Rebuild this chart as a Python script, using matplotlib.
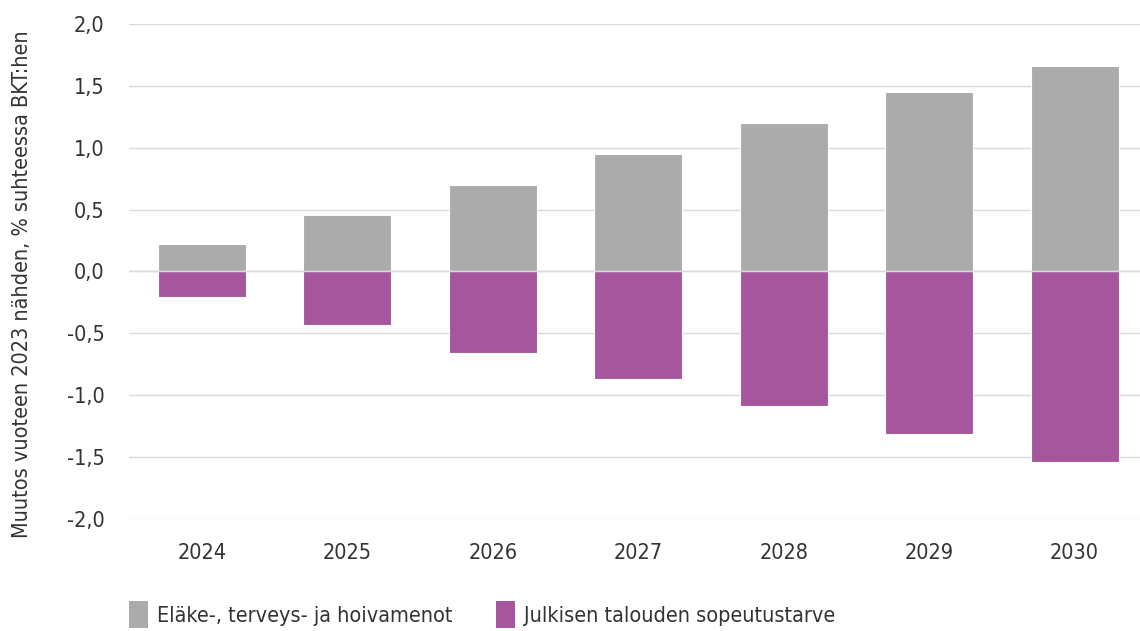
import matplotlib
matplotlib.use("Agg")
import matplotlib.pyplot as plt
import numpy as np
from matplotlib.ticker import FuncFormatter
from matplotlib.patches import Patch

plt.rcParams['font.family'] = ['DejaVu Sans']
plt.rcParams['font.stretch'] = 'condensed'

years = ['2024', '2025', '2026', '2027', '2028', '2029', '2030']
menot = [0.22, 0.46, 0.70, 0.95, 1.20, 1.45, 1.66]
sopeutus = [-0.21, -0.43, -0.66, -0.87, -1.09, -1.31, -1.54]
series_names = ['Eläke-, terveys- ja hoivamenot', 'Julkisen talouden sopeutustarve']
ylabel = 'Muutos vuoteen 2023 nähden, % suhteessa BKT:hen'

gray = '#ababab'
purple = '#a6569c'
text_color = '#333333'

fig = plt.figure(figsize=(11.4, 6.31), dpi=100)
ax = fig.add_axes([0.1134, 0.1775, 0.893, 0.7845])

x = np.arange(len(years))
ax.bar(x, menot, width=0.605, color=gray, edgecolor='white', linewidth=0.8, zorder=3)
ax.bar(x, sopeutus, width=0.605, color=purple, edgecolor='white', linewidth=0.8, zorder=3)

ax.set_ylim(-2.0, 2.0)
ax.set_xlim(-0.5, len(years) - 0.5)
ax.set_yticks(np.arange(-2.0, 2.01, 0.5))
ax.yaxis.set_major_formatter(FuncFormatter(lambda v, p: f"{v:.1f}".replace('.', ',')))
ax.set_xticks(x)
ax.set_xticklabels(years)
ax.grid(axis='y', color='#d9d9d9', linewidth=1.0, zorder=0)
ax.axhline(0, color='#d9d9d9', linewidth=1.0, zorder=4)
for s in ax.spines.values():
    s.set_visible(False)
ax.tick_params(axis='both', length=0, labelsize=15.5, colors=text_color)
ax.tick_params(axis='y', pad=18)
ax.tick_params(axis='x', pad=17)
ax.set_ylabel(ylabel, fontsize=15.5, color=text_color)
ax.yaxis.set_label_coords(-0.096, 0.475)

handles = [Patch(facecolor=gray, edgecolor='none'), Patch(facecolor=purple, edgecolor='none')]
leg = fig.legend(handles, series_names, loc='lower left', bbox_to_anchor=(0.096, -0.026),
                 ncol=2, frameon=False, fontsize=15.5, handlelength=0.9, handleheight=1.55,
                 columnspacing=2.0, handletextpad=0.42)
for t in leg.get_texts():
    t.set_color(text_color)

fig.savefig('out.png', dpi=100)
